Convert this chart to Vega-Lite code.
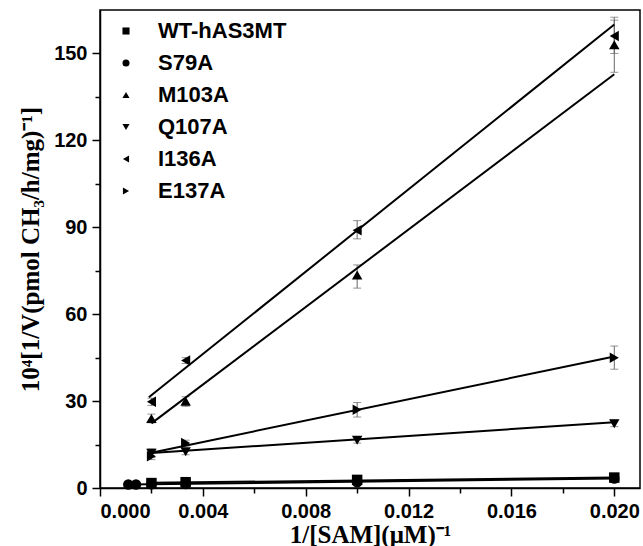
{
  "$schema": "https://vega.github.io/schema/vega-lite/v6.json",
  "width": 540,
  "height": 478,
  "autosize": {"type": "none"},
  "padding": {"left": 100, "top": 10, "right": 3, "bottom": 58},
  "background": "white",
  "config": {
    "view": {"stroke": "black", "strokeWidth": 1.5},
    "axis": {
      "labelFont": "Liberation Sans",
      "labelFontWeight": "bold",
      "labelFontSize": 20,
      "labelColor": "black",
      "titleFont": "Liberation Serif",
      "titleFontWeight": "bold",
      "titleFontSize": 25,
      "titleColor": "black",
      "domainColor": "black",
      "domainWidth": 1.5,
      "tickColor": "black",
      "tickWidth": 1.5,
      "grid": false
    }
  },
  "datasets": {
    "pts": [
      {"series": "WT-hAS3MT", "x": 0.002, "y": 1.7, "lo": 1.4, "hi": 2.0},
      {"series": "WT-hAS3MT", "x": 0.00333, "y": 2.0, "lo": 1.6, "hi": 2.4},
      {"series": "WT-hAS3MT", "x": 0.01, "y": 2.8, "lo": 2.4, "hi": 3.2},
      {"series": "WT-hAS3MT", "x": 0.02, "y": 3.6, "lo": 3.1, "hi": 4.1},
      {"series": "S79A", "x": 0.0011, "y": 1.2, "lo": 1.0, "hi": 1.4},
      {"series": "S79A", "x": 0.0014, "y": 1.2, "lo": 1.0, "hi": 1.4},
      {"series": "S79A", "x": 0.002, "y": 1.3, "lo": 1.1, "hi": 1.5},
      {"series": "S79A", "x": 0.00333, "y": 1.4, "lo": 1.2, "hi": 1.6},
      {"series": "S79A", "x": 0.01, "y": 2.0, "lo": 1.7, "hi": 2.3},
      {"series": "S79A", "x": 0.02, "y": 3.3, "lo": 2.9, "hi": 3.7},
      {"series": "M103A", "x": 0.002, "y": 24, "lo": 22.5, "hi": 25.5},
      {"series": "M103A", "x": 0.00333, "y": 30, "lo": 28.2, "hi": 31.5},
      {"series": "M103A", "x": 0.01, "y": 73.5, "lo": 69, "hi": 77},
      {"series": "M103A", "x": 0.02, "y": 153, "lo": 143.5, "hi": 162.5},
      {"series": "Q107A", "x": 0.002, "y": 12, "lo": 10.5, "hi": 13.5},
      {"series": "Q107A", "x": 0.00333, "y": 12.5, "lo": 11.5, "hi": 13.5},
      {"series": "Q107A", "x": 0.01, "y": 16.5, "lo": 15.5, "hi": 17.5},
      {"series": "Q107A", "x": 0.02, "y": 22.2, "lo": 21.2, "hi": 23.5},
      {"series": "I136A", "x": 0.002, "y": 29.8, "lo": 28.5, "hi": 31},
      {"series": "I136A", "x": 0.00333, "y": 44, "lo": 43, "hi": 45},
      {"series": "I136A", "x": 0.01, "y": 89, "lo": 86, "hi": 92.3},
      {"series": "I136A", "x": 0.02, "y": 156, "lo": 150, "hi": 161.5},
      {"series": "E137A", "x": 0.002, "y": 11, "lo": 9.8, "hi": 12.2},
      {"series": "E137A", "x": 0.00333, "y": 15.5, "lo": 14.5, "hi": 16.5},
      {"series": "E137A", "x": 0.01, "y": 27, "lo": 24.5, "hi": 29.5},
      {"series": "E137A", "x": 0.02, "y": 45, "lo": 41, "hi": 49}
    ],
    "fits": [
      {"series": "WT-hAS3MT", "x": 0.002, "y": 1.8},
      {"series": "WT-hAS3MT", "x": 0.02, "y": 3.6},
      {"series": "S79A", "x": 0.0011, "y": 1.2},
      {"series": "S79A", "x": 0.02, "y": 3.3},
      {"series": "M103A", "x": 0.002, "y": 22.3},
      {"series": "M103A", "x": 0.02, "y": 142.8},
      {"series": "Q107A", "x": 0.002, "y": 12.1},
      {"series": "Q107A", "x": 0.02, "y": 22.7},
      {"series": "I136A", "x": 0.0019, "y": 31.3},
      {"series": "I136A", "x": 0.02, "y": 160},
      {"series": "E137A", "x": 0.002, "y": 12.2},
      {"series": "E137A", "x": 0.02, "y": 45.4}
    ]
  },
  "encoding": {
    "x": {
      "field": "x",
      "type": "quantitative",
      "scale": {"domain": [0, 0.021], "nice": false, "zero": false},
      "axis": {
        "title": "1/[SAM](μM)⁻¹",
        "values": [0, 0.002, 0.004, 0.006, 0.008, 0.01, 0.012, 0.014, 0.016, 0.018, 0.02],
        "labelExpr": "round(datum.value*1000) % 4 === 0 ? format(datum.value, '.3f') : ''",
        "tickSize": {"condition": {"test": "round(datum.value*1000) % 4 === 0", "value": 8}, "value": 5},
        "labelPadding": 5,
        "titlePadding": 1
      }
    },
    "y": {
      "field": "y",
      "type": "quantitative",
      "scale": {"domain": [0, 165], "nice": false},
      "axis": {
        "title": "10⁴[1/V(pmol CH₃/h/mg)⁻¹]",
        "values": [0, 15, 30, 45, 60, 75, 90, 105, 120, 135, 150],
        "labelExpr": "datum.value % 30 === 0 ? datum.value : ''",
        "tickSize": {"condition": {"test": "datum.value % 30 === 0", "value": 8}, "value": 5},
        "labelPadding": 5,
        "titlePadding": 10
      }
    }
  },
  "layer": [
    {
      "data": {"name": "pts"},
      "mark": {"type": "rule", "color": "#666", "strokeWidth": 1},
      "encoding": {"y": {"field": "lo", "type": "quantitative"}, "y2": {"field": "hi"}}
    },
    {
      "data": {"name": "pts"},
      "mark": {"type": "tick", "orient": "horizontal", "color": "#666", "thickness": 1, "size": 8},
      "encoding": {"y": {"field": "lo", "type": "quantitative"}}
    },
    {
      "data": {"name": "pts"},
      "mark": {"type": "tick", "orient": "horizontal", "color": "#666", "thickness": 1, "size": 8},
      "encoding": {"y": {"field": "hi", "type": "quantitative"}}
    },
    {
      "data": {"name": "fits"},
      "mark": {"type": "line", "color": "black", "strokeWidth": 2},
      "encoding": {"detail": {"field": "series"}}
    },
    {
      "data": {"name": "pts"},
      "mark": {"type": "point", "filled": true, "opacity": 1, "color": "black", "size": 110},
      "encoding": {
        "shape": {
          "field": "series",
          "type": "nominal",
          "scale": {
            "domain": ["WT-hAS3MT", "S79A", "M103A", "Q107A", "I136A", "E137A"],
            "range": ["square", "circle", "triangle-up", "triangle-down", "triangle-left", "triangle-right"]
          },
          "legend": {
            "title": null,
            "orient": "none",
            "legendX": 15,
            "legendY": 10,
            "padding": 0,
            "symbolFillColor": "black",
            "symbolStrokeColor": "black",
            "symbolSize": 50,
            "labelFont": "Liberation Sans",
            "labelFontWeight": "bold",
            "labelFontSize": 22,
            "labelColor": "black",
            "labelOffset": 21,
            "rowPadding": 10
          }
        }
      }
    }
  ]
}
